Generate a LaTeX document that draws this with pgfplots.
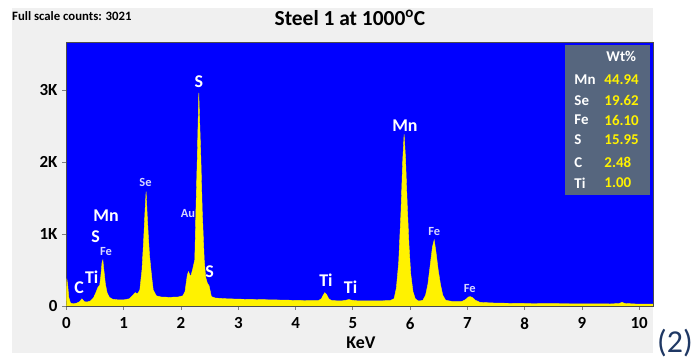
\documentclass[border=0pt]{standalone}
\usepackage{pgfplots}
\pgfplotsset{compat=1.18}
\usepackage{fontspec}
\setmainfont{Carlito}
\definecolor{panelgray}{HTML}{F0F0F0}
\definecolor{slate}{RGB}{86,102,126}
\definecolor{navy2}{RGB}{31,56,100}
\definecolor{lav}{RGB}{215,215,255}
\tikzset{
  big/.style={font=\bfseries\fontsize{18}{18}\selectfont, text=white},
  small/.style={font=\bfseries\fontsize{12.5}{13}\selectfont, text=lav},
}
\begin{document}
\begin{tikzpicture}[x=1bp,y=1bp]
\fill[white] (0,0) rectangle (696,361);
\fill[panelgray] (12,8) rectangle (653,353);
\begin{axis}[
  at={(66.5bp,55bp)}, anchor=south west,
  scale only axis, width=586.5bp, height=264bp,
  xmin=0, xmax=10.24, ymin=0, ymax=3667,
  axis background/.style={fill=blue},
  axis line style={gray!60!black, line width=0.6pt},
  xtick={0,1,...,10}, ytick={0,1000,2000,3000},
  yticklabels={0,1K,2K,3K},
  tick align=outside, major tick length=4bp,
  tick style={gray, line width=0.8pt},
  xtick pos=bottom, ytick pos=left,
  /pgf/number format/assume math mode=true,
  ticklabel style={font=\bfseries\fontsize{17}{17}\selectfont, text=black},
  xticklabel style={yshift=-4bp},
  yticklabel style={xshift=-1.5bp},
]
\addplot[fill=yellow, draw=yellow, line width=0.4pt] coordinates {
(0,0) (0.005,380) (0.02,300) (0.04,120) (0.07,40) (0.12,30) (0.18,40) (0.23,60)
(0.27,100) (0.31,60) (0.36,55) (0.42,70) (0.47,110) (0.51,180) (0.55,260) (0.58,290)
(0.60,420) (0.62,600) (0.635,640) (0.65,520) (0.68,300) (0.71,180) (0.75,120) (0.80,95)
(0.9,85) (1.0,85) (1.1,100) (1.16,150) (1.20,185) (1.24,170) (1.28,220) (1.318,500)
(1.35,960) (1.37,1300) (1.39,1590) (1.41,1250) (1.43,960) (1.45,700) (1.475,500) (1.495,350)
(1.515,220) (1.57,140) (1.65,125) (1.8,120) (1.95,125) (2.03,140) (2.07,200) (2.09,320)
(2.11,430) (2.13,477) (2.15,440) (2.17,410) (2.20,500) (2.24,640) (2.26,1330) (2.283,2030)
(2.31,2960) (2.347,2030) (2.37,1330) (2.405,640) (2.43,400) (2.46,315) (2.49,280) (2.53,130)
(2.6,110) (2.8,100) (3.0,95) (3.3,90) (3.6,85)
(3.9,80) (4.2,75) (4.4,75) (4.45,100) (4.49,160) (4.51,185) (4.54,160) (4.58,100)
(4.63,75) (4.8,70) (4.88,80) (4.93,90) (4.98,80) (5.1,70) (5.4,70) (5.65,75)
(5.72,100) (5.76,250) (5.80,600) (5.84,1300) (5.87,2000) (5.895,2385) (5.92,2050) (5.95,1400)
(5.98,850) (6.01,450) (6.05,200) (6.09,100) (6.14,70) (6.22,75) (6.27,150) (6.31,300)
(6.35,560) (6.39,820) (6.42,917) (6.45,760) (6.49,500) (6.53,300) (6.57,150) (6.62,80)
(6.75,60) (6.9,60) (6.97,90) (7.02,125) (7.05,130) (7.09,115) (7.14,80) (7.22,50)
(7.5,40) (8,35) (8.5,32) (9,30) (9.5,28) (9.65,35) (9.7,50) (9.75,35)
(10,25) (10.24,25)
} \closedcycle;
\node[big] at (axis cs:0.22,250) {C};
\node[big] at (axis cs:0.44,400) {Ti};
\node[big] at (axis cs:0.51,960) {S};
\node[big] at (axis cs:0.69,1250) {Mn};
\node[small] at (axis cs:0.69,755) {Fe};
\node[small] at (axis cs:1.38,1710) {Se};
\node[small] at (axis cs:2.12,1290) {Au};
\node[big] at (axis cs:2.31,3115) {S};
\node[big] at (axis cs:2.50,470) {S};
\node[big] at (axis cs:4.53,360) {Ti};
\node[big] at (axis cs:4.96,260) {Ti};
\node[big] at (axis cs:5.91,2510) {Mn};
\node[small] at (axis cs:6.42,1040) {Fe};
\node[small] at (axis cs:7.04,245) {Fe};
\end{axis}
% table
\fill[slate] (565,166) rectangle (650,316);
\begin{scope}[font=\bfseries\fontsize{15}{15}\selectfont]
\node[anchor=west, text=white] at (603,305) {Wt\%};
\node[anchor=west, text=white] at (571,281) {Mn};
\node[anchor=west, text=yellow] at (601,281) {44.94};
\node[anchor=west, text=white] at (571,260.5) {Se};
\node[anchor=west, text=yellow] at (601,260.5) {19.62};
\node[anchor=west, text=white] at (571,241) {Fe};
\node[anchor=west, text=yellow] at (601,241) {16.10};
\node[anchor=west, text=white] at (571,221) {S};
\node[anchor=west, text=yellow] at (601,221) {15.95};
\node[anchor=west, text=white] at (571,198.5) {C};
\node[anchor=west, text=yellow] at (601,198.5) {2.48};
\node[anchor=west, text=white] at (571,178) {Ti};
\node[anchor=west, text=yellow] at (601,178) {1.00};
\end{scope}
\node[font=\bfseries\fontsize{18}{18}\selectfont] at (361,18) {KeV};
\node[font=\bfseries\fontsize{21.5}{22}\selectfont] at (350,343) {Steel 1 at 1000\textsuperscript{o}C};
\node[anchor=west, inner sep=0pt, font=\bfseries\fontsize{12.8}{13}\selectfont] at (12,344.5) {Full scale counts: 3021};
\node[font=\fontsize{32}{32}\selectfont, text=navy2] at (675,18) {(2)};
\end{tikzpicture}
\end{document}
